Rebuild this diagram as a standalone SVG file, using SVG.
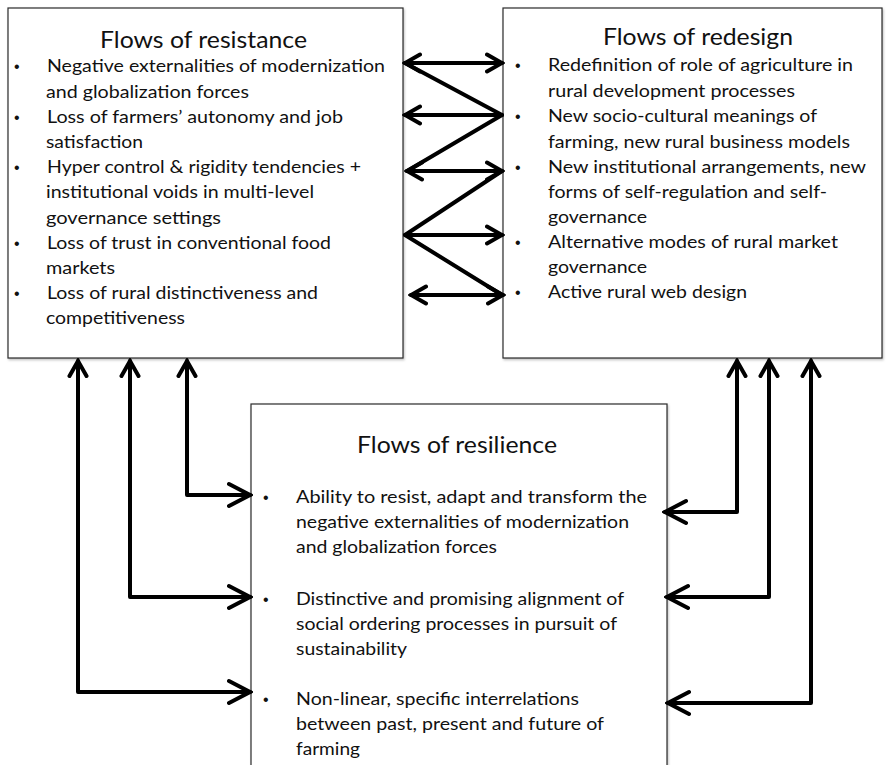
<svg xmlns="http://www.w3.org/2000/svg" width="889" height="765" viewBox="0 0 889 765">
  <style>
    .box { fill: #ffffff; stroke: #2b2b2b; stroke-width: 1.2; filter: url(#shadow); }
    .title { font-family: Lato, "Open Sans", "Liberation Sans", sans-serif; font-size: 23px; fill: #111; text-anchor: start; }
    .txt { font-family: Lato, "Open Sans", "Liberation Sans", sans-serif; font-size: 18px; fill: #111; white-space: pre; }
    .bul { font-family: "Liberation Sans", sans-serif; font-size: 16px; fill: #111; }
    .link { fill: none; stroke: #000; stroke-width: 4; stroke-linecap: round; stroke-linejoin: round; }
  </style>
  <defs>
    <filter id="shadow" x="-5%" y="-5%" width="110%" height="110%">
      <feDropShadow dx="1" dy="1.5" stdDeviation="1.2" flood-color="#000" flood-opacity="0.25"/>
    </filter>
    <!-- small open chevron head -->
    <marker id="head" viewBox="0 0 20 22" refX="17" refY="11" markerWidth="20" markerHeight="22" orient="auto-start-reverse" markerUnits="userSpaceOnUse">
      <path d="M2,2.5 L17,11 L2,19.5" fill="none" stroke="#000" stroke-width="4" stroke-linecap="round" stroke-linejoin="miter"/>
    </marker>
    <!-- larger open chevron head -->
    <marker id="headLg" viewBox="0 0 26 28" refX="23" refY="14" markerWidth="26" markerHeight="28" orient="auto-start-reverse" markerUnits="userSpaceOnUse">
      <path d="M2,3 L23,14 L2,25" fill="none" stroke="#000" stroke-width="4" stroke-linecap="round" stroke-linejoin="miter"/>
    </marker>
  </defs>

  <rect width="889" height="765" fill="#ffffff"/>

  <!-- Flows of resistance -->
  <g id="resistance">
    <rect class="box" x="8" y="8" width="395" height="350"/>
    <text class="title" x="100" y="48" textLength="207" lengthAdjust="spacingAndGlyphs">Flows of resistance</text>
    <g class="bul">
      <text x="14" y="72">•</text>
      <text x="14" y="123">•</text>
      <text x="14" y="173">•</text>
      <text x="14" y="249">•</text>
      <text x="14" y="299">•</text>
    </g>
    <g class="txt">
      <text x="47" y="72" textLength="338" lengthAdjust="spacingAndGlyphs">Negative externalities of modernization</text>
      <text x="46" y="98" textLength="203" lengthAdjust="spacingAndGlyphs">and globalization forces</text>
      <text x="47" y="123" textLength="296" lengthAdjust="spacingAndGlyphs">Loss of farmers’ autonomy and job</text>
      <text x="46" y="148" textLength="97" lengthAdjust="spacingAndGlyphs">satisfaction</text>
      <text x="47" y="173" textLength="314" lengthAdjust="spacingAndGlyphs">Hyper control &amp; rigidity tendencies +</text>
      <text x="46" y="198" textLength="268" lengthAdjust="spacingAndGlyphs">institutional voids in multi-level</text>
      <text x="46" y="224" textLength="175" lengthAdjust="spacingAndGlyphs">governance  settings</text>
      <text x="47" y="249" textLength="284" lengthAdjust="spacingAndGlyphs">Loss of trust in conventional food</text>
      <text x="46" y="274" textLength="69" lengthAdjust="spacingAndGlyphs">markets</text>
      <text x="47" y="299" textLength="271" lengthAdjust="spacingAndGlyphs">Loss of rural distinctiveness and</text>
      <text x="46" y="324" textLength="139" lengthAdjust="spacingAndGlyphs">competitiveness</text>
    </g>
  </g>

  <!-- Flows of redesign -->
  <g id="redesign">
    <rect class="box" x="503" y="8" width="379" height="350"/>
    <text class="title" x="603" y="45" textLength="190" lengthAdjust="spacingAndGlyphs">Flows of redesign</text>
    <g class="bul">
      <text x="515" y="71">•</text>
      <text x="515" y="122">•</text>
      <text x="515" y="173">•</text>
      <text x="515" y="248">•</text>
      <text x="515" y="298">•</text>
    </g>
    <g class="txt">
      <text x="548" y="71" textLength="305" lengthAdjust="spacingAndGlyphs">Redefinition of role of agriculture in</text>
      <text x="548" y="97" textLength="247" lengthAdjust="spacingAndGlyphs">rural development processes</text>
      <text x="548" y="122" textLength="269" lengthAdjust="spacingAndGlyphs">New socio-cultural meanings of</text>
      <text x="548" y="148" textLength="302" lengthAdjust="spacingAndGlyphs">farming, new rural business models</text>
      <text x="548" y="173" textLength="318" lengthAdjust="spacingAndGlyphs">New institutional arrangements, new</text>
      <text x="548" y="198" textLength="279" lengthAdjust="spacingAndGlyphs">forms of self-regulation and self-</text>
      <text x="548" y="223" textLength="99" lengthAdjust="spacingAndGlyphs">governance</text>
      <text x="548" y="248" textLength="290" lengthAdjust="spacingAndGlyphs">Alternative modes of rural market</text>
      <text x="548" y="273" textLength="99" lengthAdjust="spacingAndGlyphs">governance</text>
      <text x="548" y="298" textLength="199" lengthAdjust="spacingAndGlyphs">Active rural web design</text>
    </g>
  </g>

  <!-- Flows of resilience -->
  <g id="resilience">
    <rect class="box" x="251" y="404" width="416" height="380"/>
    <text class="title" x="357" y="453" textLength="200" lengthAdjust="spacingAndGlyphs">Flows of resilience</text>
    <g class="bul">
      <text x="263" y="503">•</text>
      <text x="263" y="605">•</text>
      <text x="263" y="705">•</text>
    </g>
    <g class="txt">
      <text x="296" y="503" textLength="351" lengthAdjust="spacingAndGlyphs">Ability to resist, adapt and transform  the</text>
      <text x="296" y="528" textLength="333" lengthAdjust="spacingAndGlyphs">negative externalities of modernization</text>
      <text x="296" y="553" textLength="201" lengthAdjust="spacingAndGlyphs">and globalization forces</text>
      <text x="296" y="605" textLength="328" lengthAdjust="spacingAndGlyphs">Distinctive and promising alignment of</text>
      <text x="296" y="630" textLength="321" lengthAdjust="spacingAndGlyphs">social ordering processes in pursuit of</text>
      <text x="296" y="655" textLength="111" lengthAdjust="spacingAndGlyphs">sustainability</text>
      <text x="296" y="705" textLength="283" lengthAdjust="spacingAndGlyphs">Non-linear, specific interrelations</text>
      <text x="296" y="730" textLength="308" lengthAdjust="spacingAndGlyphs">between past, present and future of</text>
      <text x="296" y="755" textLength="64" lengthAdjust="spacingAndGlyphs">farming</text>
    </g>
  </g>

  <!-- Connectors -->
  <g id="connectors" class="link">
    <!-- resistance <-> redesign -->
    <path d="M405,63 H502" marker-start="url(#head)" marker-end="url(#head)"/>
    <path d="M502,115 H405" marker-end="url(#head)"/>
    <path d="M407,171 H502" marker-start="url(#head)" marker-end="url(#head)"/>
    <path d="M405,235 H502" marker-end="url(#head)"/>
    <path d="M411,295 H503" marker-start="url(#head)" marker-end="url(#head)"/>
    <path d="M405,63 L502,115 L407,171 M502,171 L405,235 L502,295"/>
    <!-- resistance <-> resilience -->
    <path d="M187,361 V495 H250" marker-start="url(#head)" marker-end="url(#headLg)"/>
    <path d="M130,361 V597 H250" marker-start="url(#head)" marker-end="url(#headLg)"/>
    <path d="M78,361 V692 H250" marker-start="url(#head)" marker-end="url(#headLg)"/>
    <!-- redesign <-> resilience -->
    <path d="M737,361 V512 H665" marker-start="url(#head)" marker-end="url(#headLg)"/>
    <path d="M769,361 V597 H667" marker-start="url(#head)" marker-end="url(#headLg)"/>
    <path d="M811,361 V703 H668" marker-start="url(#head)" marker-end="url(#headLg)"/>
  </g>
</svg>
